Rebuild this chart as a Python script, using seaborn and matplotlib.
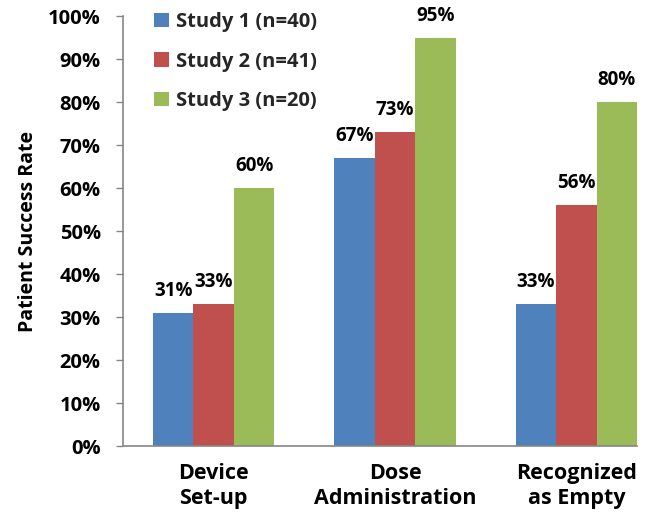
import matplotlib
matplotlib.use("Agg")
import matplotlib.pyplot as plt
import seaborn as sns
import pandas as pd
from matplotlib.ticker import PercentFormatter

categories = ["Device\nSet-up", "Dose\nAdministration", "Recognized\nas Empty"]
studies = ["Study 1 (n=40)", "Study 2 (n=41)", "Study 3 (n=20)"]
study1 = [31, 67, 33]
study2 = [33, 73, 56]
study3 = [60, 95, 80]
colors = ["#4F81BD", "#C0504D", "#9BBB59"]

rows = []
for study, vals in zip(studies, [study1, study2, study3]):
    for cat, v in zip(categories, vals):
        rows.append({"Category": cat, "Study": study, "Rate": v})
df = pd.DataFrame(rows)

sns.set_theme(style="white")
plt.rcParams["font.family"] = ["Open Sans", "DejaVu Sans"]
plt.rcParams["font.weight"] = "bold"

fig = plt.figure(figsize=(6.45, 5.12), dpi=100)
ax = fig.add_axes([0.1907, 0.1289, 0.797, 0.8398])

width = 0.67
sns.barplot(data=df, x="Category", y="Rate", hue="Study", order=categories,
            hue_order=studies, palette=colors, width=width, saturation=1,
            linewidth=0, ax=ax)

for container in ax.containers:
    for bar in container:
        h = bar.get_height()
        ax.annotate(f"{h:.0f}%", (bar.get_x() + bar.get_width() / 2, h),
                    xytext=(0, 22), textcoords="offset pixels",
                    ha="center", va="center", fontsize=13.5,
                    fontweight="bold", color="black")

ax.set_ylim(0, 100)
ax.set_xlim(-0.5, 2 + width / 2)
ax.set_yticks(range(0, 101, 10))
ax.yaxis.set_major_formatter(PercentFormatter(decimals=0))
ax.tick_params(axis="y", which="major", direction="out", length=5, width=1,
               color="#868686", left=True, labelsize=14.5, pad=11,
               labelcolor="black")
ax.tick_params(axis="x", length=0, labelsize=15.5, pad=12, labelcolor="black")
for lbl in ax.get_xticklabels() + ax.get_yticklabels():
    lbl.set_fontweight("bold")
for lbl in ax.get_xticklabels():
    lbl.set_linespacing(1.3)

ax.set_xlabel("")
ax.set_ylabel("Patient Success Rate", fontsize=14, fontweight="bold",
              labelpad=7, color="black")

for side in ["top", "right"]:
    ax.spines[side].set_visible(False)
for side in ["left", "bottom"]:
    ax.spines[side].set_color("#868686")
    ax.spines[side].set_linewidth(1.2)

leg = ax.legend(loc="upper left", bbox_to_anchor=(0.045, 1.028), frameon=False,
                fontsize=14.5, handlelength=0.75, handleheight=0.75,
                labelspacing=0.97, handletextpad=0.35, borderaxespad=0)
for t in leg.get_texts():
    t.set_fontweight("bold")

fig.savefig("out.png", dpi=100)
